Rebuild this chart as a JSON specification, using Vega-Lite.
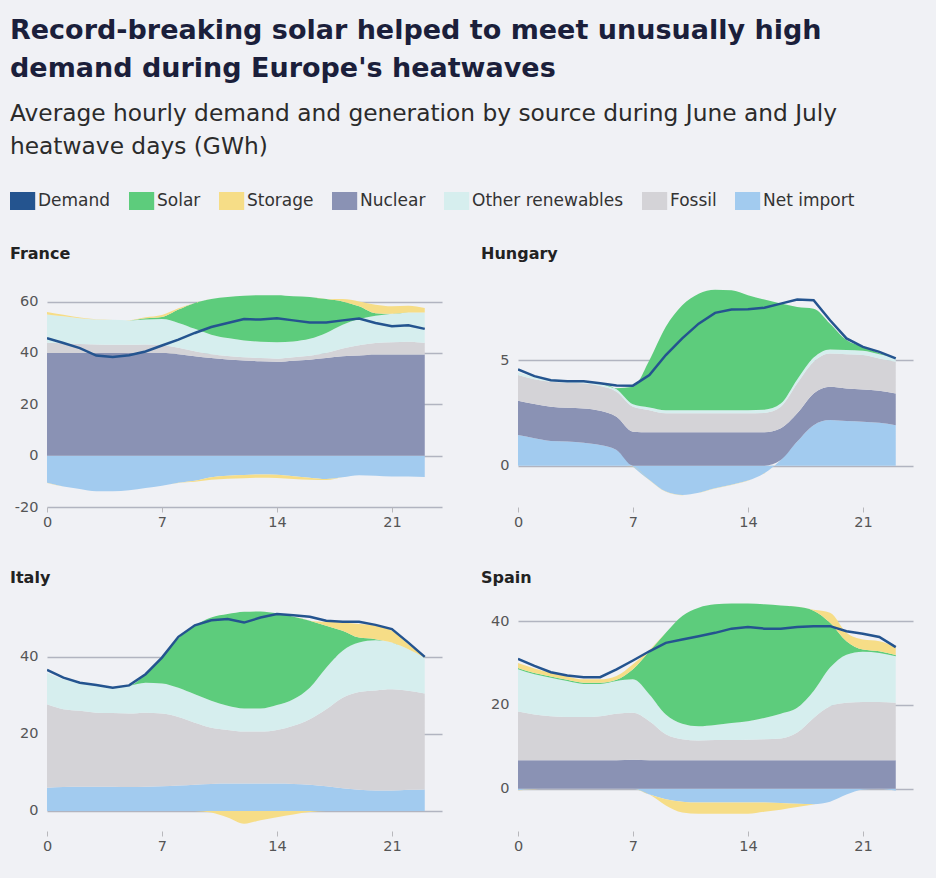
{
  "$schema": "https://vega.github.io/schema/vega-lite/v6.json",
  "background": "#f0f1f5",
  "padding": {"left": 10, "top": 16, "right": 23, "bottom": 27},
  "title": {
    "text": ["Record-breaking solar helped to meet unusually high", "demand during Europe's heatwaves"],
    "subtitle": ["Average hourly demand and generation by source during June and July", "heatwave days (GWh)"],
    "anchor": "start",
    "font": "DejaVu Sans",
    "fontSize": 27,
    "fontWeight": 700,
    "color": "#1b1f3b",
    "lineHeight": 38,
    "subtitleFont": "DejaVu Sans",
    "subtitleFontSize": 23.3,
    "subtitleFontWeight": 400,
    "subtitleColor": "#2b2b2b",
    "subtitleLineHeight": 33,
    "subtitlePadding": 20,
    "offset": 33
  },
  "datasets": {
    "energy": [
      {"country": "France", "hour": 0, "Demand": 45.8, "Net import": -10.6, "Nuclear": 40, "Fossil": 4.0, "Other renewables": 11.0, "Solar": 0, "Storage": 1.0, "Storage charging": -0.01},
      {"country": "France", "hour": 1, "Demand": 43.9, "Net import": -12.0, "Nuclear": 40, "Fossil": 3.8, "Other renewables": 10.5, "Solar": 0, "Storage": 0.6, "Storage charging": -0.01},
      {"country": "France", "hour": 2, "Demand": 41.9, "Net import": -13.0, "Nuclear": 40, "Fossil": 3.5, "Other renewables": 10.0, "Solar": 0, "Storage": 0.3, "Storage charging": -0.01},
      {"country": "France", "hour": 3, "Demand": 39.0, "Net import": -13.9, "Nuclear": 40, "Fossil": 3.3, "Other renewables": 9.7, "Solar": 0, "Storage": 0.1, "Storage charging": -0.01},
      {"country": "France", "hour": 4, "Demand": 38.4, "Net import": -13.9, "Nuclear": 40, "Fossil": 3.2, "Other renewables": 9.7, "Solar": 0, "Storage": 0, "Storage charging": -0.01},
      {"country": "France", "hour": 5, "Demand": 39.1, "Net import": -13.5, "Nuclear": 40, "Fossil": 3.2, "Other renewables": 9.5, "Solar": 0, "Storage": 0.1, "Storage charging": -0.01},
      {"country": "France", "hour": 6, "Demand": 40.6, "Net import": -12.6, "Nuclear": 40, "Fossil": 3.3, "Other renewables": 9.7, "Solar": 0.5, "Storage": 0.4, "Storage charging": -0.01},
      {"country": "France", "hour": 7, "Demand": 42.9, "Net import": -11.7, "Nuclear": 40, "Fossil": 3.0, "Other renewables": 10.2, "Solar": 0.8, "Storage": 0.8, "Storage charging": -0.01},
      {"country": "France", "hour": 8, "Demand": 45.2, "Net import": -10.6, "Nuclear": 39.5, "Fossil": 2.5, "Other renewables": 9.7, "Solar": 5.2, "Storage": 0.5, "Storage charging": -0.01},
      {"country": "France", "hour": 9, "Demand": 47.8, "Net import": -9.8, "Nuclear": 38.7, "Fossil": 2.0, "Other renewables": 8.7, "Solar": 10.1, "Storage": 0, "Storage charging": -0.4},
      {"country": "France", "hour": 10, "Demand": 50.1, "Net import": -8.4, "Nuclear": 38.0, "Fossil": 1.5, "Other renewables": 7.6, "Solar": 13.9, "Storage": 0, "Storage charging": -1.0},
      {"country": "France", "hour": 11, "Demand": 51.7, "Net import": -7.8, "Nuclear": 37.5, "Fossil": 1.3, "Other renewables": 7.0, "Solar": 16.0, "Storage": 0, "Storage charging": -1.2},
      {"country": "France", "hour": 12, "Demand": 53.2, "Net import": -7.5, "Nuclear": 37.1, "Fossil": 1.2, "Other renewables": 6.6, "Solar": 17.4, "Storage": 0, "Storage charging": -1.3},
      {"country": "France", "hour": 13, "Demand": 53.0, "Net import": -7.3, "Nuclear": 36.8, "Fossil": 1.2, "Other renewables": 6.4, "Solar": 18.1, "Storage": 0, "Storage charging": -1.3},
      {"country": "France", "hour": 14, "Demand": 53.5, "Net import": -7.4, "Nuclear": 36.6, "Fossil": 1.2, "Other renewables": 6.4, "Solar": 18.3, "Storage": 0, "Storage charging": -1.3},
      {"country": "France", "hour": 15, "Demand": 52.7, "Net import": -8.0, "Nuclear": 37.0, "Fossil": 1.3, "Other renewables": 6.2, "Solar": 17.6, "Storage": 0, "Storage charging": -1.1},
      {"country": "France", "hour": 16, "Demand": 51.9, "Net import": -8.6, "Nuclear": 37.4, "Fossil": 1.5, "Other renewables": 6.6, "Solar": 16.3, "Storage": 0, "Storage charging": -0.8},
      {"country": "France", "hour": 17, "Demand": 51.9, "Net import": -9.1, "Nuclear": 38.0, "Fossil": 2.0, "Other renewables": 7.8, "Solar": 13.2, "Storage": 0, "Storage charging": -0.4},
      {"country": "France", "hour": 18, "Demand": 52.7, "Net import": -8.4, "Nuclear": 38.7, "Fossil": 3.0, "Other renewables": 9.3, "Solar": 9.1, "Storage": 0.9, "Storage charging": -0.01},
      {"country": "France", "hour": 19, "Demand": 53.4, "Net import": -7.6, "Nuclear": 39.0, "Fossil": 4.0, "Other renewables": 10.2, "Solar": 5.0, "Storage": 1.9, "Storage charging": -0.01},
      {"country": "France", "hour": 20, "Demand": 51.7, "Net import": -7.8, "Nuclear": 39.4, "Fossil": 4.5, "Other renewables": 10.6, "Solar": 1.0, "Storage": 3.3, "Storage charging": -0.01},
      {"country": "France", "hour": 21, "Demand": 50.4, "Net import": -8.1, "Nuclear": 39.4, "Fossil": 4.8, "Other renewables": 11.1, "Solar": 0, "Storage": 2.9, "Storage charging": -0.01},
      {"country": "France", "hour": 22, "Demand": 50.8, "Net import": -8.1, "Nuclear": 39.4, "Fossil": 5.0, "Other renewables": 11.4, "Solar": 0, "Storage": 2.6, "Storage charging": -0.01},
      {"country": "France", "hour": 23, "Demand": 49.4, "Net import": -8.3, "Nuclear": 39.4, "Fossil": 4.5, "Other renewables": 11.9, "Solar": 0, "Storage": 1.7, "Storage charging": -0.01},

      {"country": "Hungary", "hour": 0, "Demand": 4.56, "Net import": 1.45, "Nuclear": 1.63, "Fossil": 1.21, "Other renewables": 0.12, "Solar": 0, "Storage": 0, "Storage charging": -0.01},
      {"country": "Hungary", "hour": 1, "Demand": 4.24, "Net import": 1.30, "Nuclear": 1.62, "Fossil": 1.17, "Other renewables": 0.12, "Solar": 0, "Storage": 0, "Storage charging": -0.01},
      {"country": "Hungary", "hour": 2, "Demand": 4.05, "Net import": 1.17, "Nuclear": 1.62, "Fossil": 1.18, "Other renewables": 0.12, "Solar": 0, "Storage": 0, "Storage charging": -0.01},
      {"country": "Hungary", "hour": 3, "Demand": 4.00, "Net import": 1.14, "Nuclear": 1.60, "Fossil": 1.19, "Other renewables": 0.12, "Solar": 0, "Storage": 0, "Storage charging": -0.01},
      {"country": "Hungary", "hour": 4, "Demand": 4.00, "Net import": 1.09, "Nuclear": 1.62, "Fossil": 1.19, "Other renewables": 0.12, "Solar": 0, "Storage": 0, "Storage charging": -0.01},
      {"country": "Hungary", "hour": 5, "Demand": 3.90, "Net import": 0.98, "Nuclear": 1.62, "Fossil": 1.17, "Other renewables": 0.12, "Solar": 0, "Storage": 0, "Storage charging": -0.01},
      {"country": "Hungary", "hour": 6, "Demand": 3.80, "Net import": 0.74, "Nuclear": 1.58, "Fossil": 1.18, "Other renewables": 0.12, "Solar": 0.05, "Storage": 0, "Storage charging": -0.01},
      {"country": "Hungary", "hour": 7, "Demand": 3.79, "Net import": -0.05, "Nuclear": 1.61, "Fossil": 1.18, "Other renewables": 0.12, "Solar": 0.83, "Storage": 0, "Storage charging": -0.01},
      {"country": "Hungary", "hour": 8, "Demand": 4.29, "Net import": -0.68, "Nuclear": 1.58, "Fossil": 1.05, "Other renewables": 0.13, "Solar": 2.24, "Storage": 0, "Storage charging": -0.01},
      {"country": "Hungary", "hour": 9, "Demand": 5.24, "Net import": -1.23, "Nuclear": 1.58, "Fossil": 0.90, "Other renewables": 0.15, "Solar": 3.95, "Storage": 0, "Storage charging": -0.01},
      {"country": "Hungary", "hour": 10, "Demand": 6.03, "Net import": -1.39, "Nuclear": 1.58, "Fossil": 0.90, "Other renewables": 0.15, "Solar": 4.97, "Storage": 0, "Storage charging": -0.01},
      {"country": "Hungary", "hour": 11, "Demand": 6.73, "Net import": -1.28, "Nuclear": 1.58, "Fossil": 0.90, "Other renewables": 0.15, "Solar": 5.52, "Storage": 0, "Storage charging": -0.01},
      {"country": "Hungary", "hour": 12, "Demand": 7.24, "Net import": -1.07, "Nuclear": 1.58, "Fossil": 0.90, "Other renewables": 0.15, "Solar": 5.71, "Storage": 0, "Storage charging": -0.01},
      {"country": "Hungary", "hour": 13, "Demand": 7.40, "Net import": -0.91, "Nuclear": 1.58, "Fossil": 0.90, "Other renewables": 0.15, "Solar": 5.68, "Storage": 0, "Storage charging": -0.01},
      {"country": "Hungary", "hour": 14, "Demand": 7.41, "Net import": -0.71, "Nuclear": 1.58, "Fossil": 0.90, "Other renewables": 0.15, "Solar": 5.45, "Storage": 0, "Storage charging": -0.01},
      {"country": "Hungary", "hour": 15, "Demand": 7.48, "Net import": -0.36, "Nuclear": 1.58, "Fossil": 0.92, "Other renewables": 0.15, "Solar": 5.22, "Storage": 0, "Storage charging": -0.01},
      {"country": "Hungary", "hour": 16, "Demand": 7.68, "Net import": 0.27, "Nuclear": 1.50, "Fossil": 1.02, "Other renewables": 0.15, "Solar": 4.74, "Storage": 0, "Storage charging": -0.01},
      {"country": "Hungary", "hour": 17, "Demand": 7.87, "Net import": 1.14, "Nuclear": 1.34, "Fossil": 1.42, "Other renewables": 0.18, "Solar": 3.44, "Storage": 0, "Storage charging": -0.01},
      {"country": "Hungary", "hour": 18, "Demand": 7.84, "Net import": 1.92, "Nuclear": 1.50, "Fossil": 1.50, "Other renewables": 0.20, "Solar": 2.32, "Storage": 0, "Storage charging": -0.01},
      {"country": "Hungary", "hour": 19, "Demand": 6.89, "Net import": 2.16, "Nuclear": 1.58, "Fossil": 1.57, "Other renewables": 0.20, "Solar": 1.22, "Storage": 0, "Storage charging": -0.01},
      {"country": "Hungary", "hour": 20, "Demand": 6.03, "Net import": 2.11, "Nuclear": 1.55, "Fossil": 1.62, "Other renewables": 0.20, "Solar": 0.47, "Storage": 0, "Storage charging": -0.01},
      {"country": "Hungary", "hour": 21, "Demand": 5.63, "Net import": 2.08, "Nuclear": 1.53, "Fossil": 1.63, "Other renewables": 0.20, "Solar": 0.19, "Storage": 0, "Storage charging": -0.01},
      {"country": "Hungary", "hour": 22, "Demand": 5.39, "Net import": 2.03, "Nuclear": 1.52, "Fossil": 1.53, "Other renewables": 0.20, "Solar": 0.05, "Storage": 0, "Storage charging": -0.01},
      {"country": "Hungary", "hour": 23, "Demand": 5.08, "Net import": 1.92, "Nuclear": 1.50, "Fossil": 1.50, "Other renewables": 0.20, "Solar": 0, "Storage": 0, "Storage charging": -0.01},

      {"country": "Italy", "hour": 0, "Demand": 36.6, "Net import": 6.0, "Nuclear": 0, "Fossil": 21.7, "Other renewables": 8.2, "Solar": 0, "Storage": 0, "Storage charging": -0.01},
      {"country": "Italy", "hour": 1, "Demand": 34.6, "Net import": 6.2, "Nuclear": 0, "Fossil": 20.2, "Other renewables": 7.8, "Solar": 0, "Storage": 0, "Storage charging": -0.01},
      {"country": "Italy", "hour": 2, "Demand": 33.3, "Net import": 6.3, "Nuclear": 0, "Fossil": 19.7, "Other renewables": 7.3, "Solar": 0, "Storage": 0, "Storage charging": -0.01},
      {"country": "Italy", "hour": 3, "Demand": 32.7, "Net import": 6.3, "Nuclear": 0, "Fossil": 19.2, "Other renewables": 7.2, "Solar": 0, "Storage": 0, "Storage charging": -0.01},
      {"country": "Italy", "hour": 4, "Demand": 32.0, "Net import": 6.3, "Nuclear": 0, "Fossil": 19.1, "Other renewables": 6.8, "Solar": 0, "Storage": 0, "Storage charging": -0.01},
      {"country": "Italy", "hour": 5, "Demand": 32.6, "Net import": 6.2, "Nuclear": 0, "Fossil": 19.1, "Other renewables": 7.2, "Solar": 0, "Storage": 0, "Storage charging": -0.01},
      {"country": "Italy", "hour": 6, "Demand": 35.5, "Net import": 6.3, "Nuclear": 0, "Fossil": 19.2, "Other renewables": 7.8, "Solar": 2.2, "Storage": 0, "Storage charging": -0.01},
      {"country": "Italy", "hour": 7, "Demand": 39.8, "Net import": 6.4, "Nuclear": 0, "Fossil": 18.9, "Other renewables": 7.8, "Solar": 6.7, "Storage": 0.3, "Storage charging": -0.01},
      {"country": "Italy", "hour": 8, "Demand": 45.2, "Net import": 6.6, "Nuclear": 0, "Fossil": 17.8, "Other renewables": 7.6, "Solar": 12.8, "Storage": 0.3, "Storage charging": -0.01},
      {"country": "Italy", "hour": 9, "Demand": 48.2, "Net import": 6.8, "Nuclear": 0, "Fossil": 16.1, "Other renewables": 7.4, "Solar": 17.8, "Storage": 0, "Storage charging": -0.01},
      {"country": "Italy", "hour": 10, "Demand": 49.5, "Net import": 7.0, "Nuclear": 0, "Fossil": 14.6, "Other renewables": 7.0, "Solar": 21.6, "Storage": 0, "Storage charging": -0.4},
      {"country": "Italy", "hour": 11, "Demand": 49.8, "Net import": 7.1, "Nuclear": 0, "Fossil": 13.9, "Other renewables": 6.3, "Solar": 23.8, "Storage": 0, "Storage charging": -1.7},
      {"country": "Italy", "hour": 12, "Demand": 48.9, "Net import": 7.1, "Nuclear": 0, "Fossil": 13.5, "Other renewables": 6.0, "Solar": 25.1, "Storage": 0, "Storage charging": -3.3},
      {"country": "Italy", "hour": 13, "Demand": 50.2, "Net import": 7.1, "Nuclear": 0, "Fossil": 13.5, "Other renewables": 6.0, "Solar": 25.2, "Storage": 0, "Storage charging": -2.4},
      {"country": "Italy", "hour": 14, "Demand": 51.1, "Net import": 7.1, "Nuclear": 0, "Fossil": 13.9, "Other renewables": 6.5, "Solar": 23.8, "Storage": 0, "Storage charging": -1.6},
      {"country": "Italy", "hour": 15, "Demand": 50.8, "Net import": 7.0, "Nuclear": 0, "Fossil": 15.1, "Other renewables": 6.9, "Solar": 21.4, "Storage": 0, "Storage charging": -0.9},
      {"country": "Italy", "hour": 16, "Demand": 50.4, "Net import": 6.8, "Nuclear": 0, "Fossil": 17.0, "Other renewables": 8.2, "Solar": 17.4, "Storage": 0, "Storage charging": -0.3},
      {"country": "Italy", "hour": 17, "Demand": 49.4, "Net import": 6.4, "Nuclear": 0, "Fossil": 20.0, "Other renewables": 10.8, "Solar": 10.9, "Storage": 1.0, "Storage charging": -0.01},
      {"country": "Italy", "hour": 18, "Demand": 49.1, "Net import": 5.9, "Nuclear": 0, "Fossil": 23.5, "Other renewables": 12.2, "Solar": 5.2, "Storage": 2.1, "Storage charging": -0.01},
      {"country": "Italy", "hour": 19, "Demand": 49.1, "Net import": 5.5, "Nuclear": 0, "Fossil": 25.4, "Other renewables": 12.8, "Solar": 1.3, "Storage": 3.5, "Storage charging": -0.01},
      {"country": "Italy", "hour": 20, "Demand": 48.3, "Net import": 5.3, "Nuclear": 0, "Fossil": 26.0, "Other renewables": 13.0, "Solar": 0.3, "Storage": 3.5, "Storage charging": -0.01},
      {"country": "Italy", "hour": 21, "Demand": 47.2, "Net import": 5.3, "Nuclear": 0, "Fossil": 26.3, "Other renewables": 12.1, "Solar": 0, "Storage": 3.1, "Storage charging": -0.01},
      {"country": "Italy", "hour": 22, "Demand": 43.7, "Net import": 5.5, "Nuclear": 0, "Fossil": 25.7, "Other renewables": 10.8, "Solar": 0, "Storage": 1.3, "Storage charging": -0.01},
      {"country": "Italy", "hour": 23, "Demand": 40.0, "Net import": 5.6, "Nuclear": 0, "Fossil": 24.9, "Other renewables": 9.3, "Solar": 0, "Storage": 0.1, "Storage charging": -0.01},

      {"country": "Spain", "hour": 0, "Demand": 31.0, "Net import": -0.4, "Nuclear": 6.8, "Fossil": 11.6, "Other renewables": 10.1, "Solar": 0.3, "Storage": 1.2, "Storage charging": -0.01},
      {"country": "Spain", "hour": 1, "Demand": 29.3, "Net import": -0.1, "Nuclear": 6.8, "Fossil": 10.9, "Other renewables": 9.6, "Solar": 0.3, "Storage": 1.1, "Storage charging": -0.01},
      {"country": "Spain", "hour": 2, "Demand": 27.8, "Net import": 0, "Nuclear": 6.8, "Fossil": 10.5, "Other renewables": 9.2, "Solar": 0.3, "Storage": 0.9, "Storage charging": -0.01},
      {"country": "Spain", "hour": 3, "Demand": 27.0, "Net import": 0, "Nuclear": 6.8, "Fossil": 10.3, "Other renewables": 8.6, "Solar": 0.3, "Storage": 0.8, "Storage charging": -0.01},
      {"country": "Spain", "hour": 4, "Demand": 26.6, "Net import": 0, "Nuclear": 6.8, "Fossil": 10.3, "Other renewables": 7.9, "Solar": 0.3, "Storage": 0.8, "Storage charging": -0.01},
      {"country": "Spain", "hour": 5, "Demand": 26.6, "Net import": 0, "Nuclear": 6.8, "Fossil": 10.5, "Other renewables": 7.7, "Solar": 0.3, "Storage": 0.8, "Storage charging": -0.01},
      {"country": "Spain", "hour": 6, "Demand": 28.5, "Net import": 0, "Nuclear": 6.8, "Fossil": 11.1, "Other renewables": 7.8, "Solar": 0.3, "Storage": 0.9, "Storage charging": -0.01},
      {"country": "Spain", "hour": 7, "Demand": 30.6, "Net import": 0, "Nuclear": 6.9, "Fossil": 11.2, "Other renewables": 8.0, "Solar": 2.4, "Storage": 1.2, "Storage charging": -0.01},
      {"country": "Spain", "hour": 8, "Demand": 32.8, "Net import": -1.4, "Nuclear": 6.8, "Fossil": 9.3, "Other renewables": 6.4, "Solar": 10.3, "Storage": 0.3, "Storage charging": -0.01},
      {"country": "Spain", "hour": 9, "Demand": 34.8, "Net import": -2.5, "Nuclear": 6.8, "Fossil": 6.2, "Other renewables": 4.7, "Solar": 19.5, "Storage": 0, "Storage charging": -1.5},
      {"country": "Spain", "hour": 10, "Demand": 35.6, "Net import": -3.1, "Nuclear": 6.8, "Fossil": 5.0, "Other renewables": 3.7, "Solar": 25.7, "Storage": 0, "Storage charging": -2.6},
      {"country": "Spain", "hour": 11, "Demand": 36.4, "Net import": -3.3, "Nuclear": 6.8, "Fossil": 4.7, "Other renewables": 3.4, "Solar": 28.3, "Storage": 0, "Storage charging": -2.7},
      {"country": "Spain", "hour": 12, "Demand": 37.2, "Net import": -3.3, "Nuclear": 6.8, "Fossil": 4.8, "Other renewables": 3.6, "Solar": 28.8, "Storage": 0, "Storage charging": -2.7},
      {"country": "Spain", "hour": 13, "Demand": 38.2, "Net import": -3.3, "Nuclear": 6.8, "Fossil": 4.8, "Other renewables": 4.1, "Solar": 28.5, "Storage": 0, "Storage charging": -2.7},
      {"country": "Spain", "hour": 14, "Demand": 38.6, "Net import": -3.3, "Nuclear": 6.8, "Fossil": 4.9, "Other renewables": 4.4, "Solar": 28.1, "Storage": 0, "Storage charging": -2.7},
      {"country": "Spain", "hour": 15, "Demand": 38.2, "Net import": -3.3, "Nuclear": 6.8, "Fossil": 5.0, "Other renewables": 5.1, "Solar": 27.1, "Storage": 0, "Storage charging": -2.2},
      {"country": "Spain", "hour": 16, "Demand": 38.2, "Net import": -3.4, "Nuclear": 6.8, "Fossil": 5.2, "Other renewables": 5.9, "Solar": 25.8, "Storage": 0, "Storage charging": -1.6},
      {"country": "Spain", "hour": 17, "Demand": 38.6, "Net import": -3.6, "Nuclear": 6.8, "Fossil": 6.6, "Other renewables": 5.9, "Solar": 24.1, "Storage": 0, "Storage charging": -0.8},
      {"country": "Spain", "hour": 18, "Demand": 38.8, "Net import": -3.7, "Nuclear": 6.8, "Fossil": 10.1, "Other renewables": 6.4, "Solar": 19.2, "Storage": 0.2, "Storage charging": -0.1},
      {"country": "Spain", "hour": 19, "Demand": 38.8, "Net import": -3.1, "Nuclear": 6.8, "Fossil": 12.9, "Other renewables": 9.2, "Solar": 10.7, "Storage": 2.4, "Storage charging": -0.01},
      {"country": "Spain", "hour": 20, "Demand": 37.6, "Net import": -1.4, "Nuclear": 6.8, "Fossil": 13.7, "Other renewables": 11.5, "Solar": 3.2, "Storage": 2.0, "Storage charging": -0.01},
      {"country": "Spain", "hour": 21, "Demand": 37.0, "Net import": -0.2, "Nuclear": 6.8, "Fossil": 13.9, "Other renewables": 12.0, "Solar": 0.5, "Storage": 2.4, "Storage charging": -0.01},
      {"country": "Spain", "hour": 22, "Demand": 36.2, "Net import": 0, "Nuclear": 6.8, "Fossil": 13.9, "Other renewables": 11.7, "Solar": 0.4, "Storage": 2.4, "Storage charging": -0.01},
      {"country": "Spain", "hour": 23, "Demand": 33.8, "Net import": -0.5, "Nuclear": 6.8, "Fossil": 13.7, "Other renewables": 11.1, "Solar": 0.3, "Storage": 1.9, "Storage charging": -0.01}
    ],
    "ranks": [
      {"key": "Demand", "rank": 0},
      {"key": "Net import", "rank": 1},
      {"key": "Storage charging", "rank": 2},
      {"key": "Nuclear", "rank": 3},
      {"key": "Fossil", "rank": 4},
      {"key": "Other renewables", "rank": 5},
      {"key": "Solar", "rank": 6},
      {"key": "Storage", "rank": 7}
    ]
  },
  "data": {"name": "energy"},
  "transform": [
    {"fold": ["Demand", "Net import", "Storage charging", "Nuclear", "Fossil", "Other renewables", "Solar", "Storage"]},
    {"lookup": "key", "from": {"data": {"name": "ranks"}, "key": "key", "fields": ["rank"]}}
  ],
  "columns": 2,
  "spacing": {"row": 41, "column": 39},
  "concat": [
    {
      "title": "France",
      "width": 395,
      "height": 230,
      "transform": [{"filter": "datum.country === 'France'"}],
      "layer": [
        {
          "transform": [{"filter": "datum.key !== 'Demand'"}],
          "mark": {"type": "area", "interpolate": "monotone", "clip": true},
          "encoding": {
            "x": {"field": "hour", "type": "quantitative", "scale": {"domain": [0, 24.05], "nice": false}, "axis": {"values": [0, 7, 14, 21]}},
            "y": {"field": "value", "type": "quantitative", "stack": "zero", "scale": {"domain": [-20, 69.6], "nice": false, "zero": false}, "axis": {"values": [-20, 0, 20, 40, 60], "labelExpr": "replace(datum.label, '−', '-')"}},
            "color": {"field": "key", "type": "nominal", "scale": {"domain": ["Demand", "Solar", "Storage", "Nuclear", "Other renewables", "Fossil", "Net import", "Storage charging"], "range": ["#24548f", "#5dcc7c", "#f6dd87", "#8a92b4", "#d6eeee", "#d4d3d7", "#a2cbef", "#f6dd87"]}, "legend": {"values": ["Demand", "Solar", "Storage", "Nuclear", "Other renewables", "Fossil", "Net import"]}},
            "order": {"field": "rank", "type": "quantitative"}
          }
        },
        {
          "transform": [{"filter": "datum.key === 'Demand'"}],
          "mark": {"type": "line", "strokeWidth": 2.5, "clip": true},
          "encoding": {
            "x": {"field": "hour", "type": "quantitative"},
            "y": {"field": "value", "type": "quantitative"},
            "color": {"field": "key", "type": "nominal", "legend": null}
          }
        }
      ]
    },
    {
      "title": "Hungary",
      "width": 395,
      "height": 230,
      "transform": [{"filter": "datum.country === 'Hungary'"}],
      "layer": [
        {
          "transform": [{"filter": "datum.key !== 'Demand'"}],
          "mark": {"type": "area", "interpolate": "monotone", "clip": true},
          "encoding": {
            "x": {"field": "hour", "type": "quantitative", "scale": {"domain": [0, 24.05], "nice": false}, "axis": {"values": [0, 7, 14, 21]}},
            "y": {"field": "value", "type": "quantitative", "stack": "zero", "scale": {"domain": [-1.96, 8.94], "nice": false, "zero": false}, "axis": {"values": [0, 5]}},
            "color": {"field": "key", "type": "nominal", "legend": {"values": ["Demand", "Solar", "Storage", "Nuclear", "Other renewables", "Fossil", "Net import"]}},
            "order": {"field": "rank", "type": "quantitative"}
          }
        },
        {
          "transform": [{"filter": "datum.key === 'Demand'"}],
          "mark": {"type": "line", "strokeWidth": 2.5, "clip": true},
          "encoding": {
            "x": {"field": "hour", "type": "quantitative"},
            "y": {"field": "value", "type": "quantitative"},
            "color": {"field": "key", "type": "nominal", "legend": null}
          }
        }
      ]
    },
    {
      "title": "Italy",
      "width": 395,
      "height": 230,
      "transform": [{"filter": "datum.country === 'Italy'"}],
      "layer": [
        {
          "transform": [{"filter": "datum.key !== 'Demand'"}],
          "mark": {"type": "area", "interpolate": "monotone", "clip": true},
          "encoding": {
            "x": {"field": "hour", "type": "quantitative", "scale": {"domain": [0, 24.05], "nice": false}, "axis": {"values": [0, 7, 14, 21]}},
            "y": {"field": "value", "type": "quantitative", "stack": "zero", "scale": {"domain": [-5.2, 54.5], "nice": false, "zero": false}, "axis": {"values": [0, 20, 40]}},
            "color": {"field": "key", "type": "nominal", "legend": {"values": ["Demand", "Solar", "Storage", "Nuclear", "Other renewables", "Fossil", "Net import"]}},
            "order": {"field": "rank", "type": "quantitative"}
          }
        },
        {
          "transform": [{"filter": "datum.key === 'Demand'"}],
          "mark": {"type": "line", "strokeWidth": 2.5, "clip": true},
          "encoding": {
            "x": {"field": "hour", "type": "quantitative"},
            "y": {"field": "value", "type": "quantitative"},
            "color": {"field": "key", "type": "nominal", "legend": null}
          }
        }
      ]
    },
    {
      "title": "Spain",
      "width": 395,
      "height": 230,
      "transform": [{"filter": "datum.country === 'Spain'"}],
      "layer": [
        {
          "transform": [{"filter": "datum.key !== 'Demand'"}],
          "mark": {"type": "area", "interpolate": "monotone", "clip": true},
          "encoding": {
            "x": {"field": "hour", "type": "quantitative", "scale": {"domain": [0, 24.05], "nice": false}, "axis": {"values": [0, 7, 14, 21]}},
            "y": {"field": "value", "type": "quantitative", "stack": "zero", "scale": {"domain": [-10.1, 44.8], "nice": false, "zero": false}, "axis": {"values": [0, 20, 40]}},
            "color": {"field": "key", "type": "nominal", "legend": {"values": ["Demand", "Solar", "Storage", "Nuclear", "Other renewables", "Fossil", "Net import"]}},
            "order": {"field": "rank", "type": "quantitative"}
          }
        },
        {
          "transform": [{"filter": "datum.key === 'Demand'"}],
          "mark": {"type": "line", "strokeWidth": 2.5, "clip": true},
          "encoding": {
            "x": {"field": "hour", "type": "quantitative"},
            "y": {"field": "value", "type": "quantitative"},
            "color": {"field": "key", "type": "nominal", "legend": null}
          }
        }
      ]
    }
  ],
  "resolve": {"scale": {"color": "shared", "x": "independent", "y": "independent"}},
  "config": {
    "font": "DejaVu Sans",
    "view": {"stroke": null},
    "title": {"anchor": "start", "font": "DejaVu Sans", "fontSize": 16, "fontWeight": 700, "color": "#222222", "offset": 15},
    "axis": {"title": null, "labelFont": "DejaVu Sans", "labelFontSize": 14.5, "labelColor": "#555555", "zindex": 1},
    "axisX": {"domain": false, "grid": false, "ticks": true, "tickColor": "#b8b8bc", "tickSize": 5, "labelPadding": 3, "labelFlush": false},
    "axisY": {"domain": false, "ticks": false, "grid": true, "gridColor": "#7d8194", "gridOpacity": 0.55, "gridWidth": 1.5, "labelPadding": 9, "minExtent": 37},
    "legend": {
      "orient": "none",
      "legendX": -37,
      "legendY": -85,
      "direction": "horizontal",
      "title": null,
      "symbolType": "M-1,-1H1.8V1H-1Z",
      "symbolSize": 324,
      "symbolStrokeWidth": 0,
      "symbolOpacity": 1,
      "labelFont": "DejaVu Sans",
      "labelFontSize": 17,
      "labelColor": "#333333",
      "labelOffset": 10,
      "columnPadding": 18
    }
  }
}
